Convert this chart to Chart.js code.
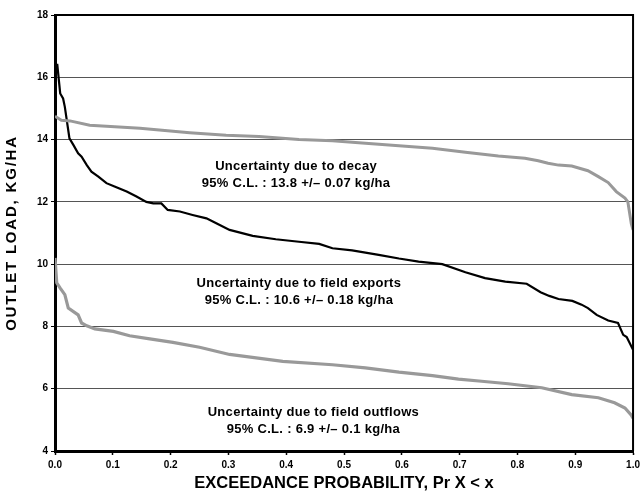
<!DOCTYPE html>
<html>
<head>
<meta charset="utf-8">
<script src="https://cdn.jsdelivr.net/npm/chart.js@4"></script>
<style>
  body { margin: 0; background: #fff; }
  #wrap { width: 644px; height: 493px; }
</style>
</head>
<body>
<div id="wrap"><canvas id="loadChart" width="644" height="493"></canvas></div>
<script>
// exceedance curves
const decayProb = [0, 0.011, 0.026, 0.06, 0.147, 0.233, 0.296, 0.353, 0.422, 0.48, 0.537, 0.595, 0.653, 0.71, 0.767, 0.813, 0.836, 0.853, 0.871, 0.894, 0.922, 0.94, 0.957, 0.971, 0.986, 0.991, 0.997, 1.0];
const decayLoad = [14.75, 14.62, 14.6, 14.46, 14.36, 14.22, 14.14, 14.1, 14.0, 13.96, 13.88, 13.8, 13.72, 13.59, 13.47, 13.4, 13.32, 13.24, 13.18, 13.15, 13.0, 12.81, 12.62, 12.33, 12.12, 12.0, 11.3, 11.1];

const exportsProb = [0, 0.004, 0.009, 0.014, 0.017, 0.025, 0.032, 0.04, 0.046, 0.055, 0.063, 0.075, 0.089, 0.103, 0.124, 0.141, 0.158, 0.17, 0.184, 0.195, 0.216, 0.238, 0.262, 0.279, 0.302, 0.342, 0.382, 0.422, 0.457, 0.48, 0.514, 0.56, 0.595, 0.629, 0.67, 0.71, 0.744, 0.779, 0.816, 0.84, 0.855, 0.871, 0.895, 0.911, 0.922, 0.937, 0.957, 0.974, 0.983, 0.989, 1.0];
const exportsLoad = [16.4, 16.4, 15.48, 15.32, 15.05, 14.04, 13.82, 13.56, 13.45, 13.18, 12.97, 12.81, 12.6, 12.49, 12.33, 12.17, 12.0, 11.95, 11.95, 11.74, 11.69, 11.58, 11.47, 11.31, 11.1, 10.91, 10.8, 10.72, 10.65, 10.51, 10.44, 10.3, 10.18, 10.08, 10.0, 9.74, 9.55, 9.44, 9.37, 9.1, 8.98, 8.88, 8.82, 8.7, 8.59, 8.37, 8.19, 8.11, 7.73, 7.66, 7.25];

const outflowsProb = [0, 0.003, 0.009, 0.017, 0.023, 0.04, 0.046, 0.055, 0.069, 0.101, 0.129, 0.164, 0.204, 0.25, 0.302, 0.394, 0.48, 0.537, 0.595, 0.653, 0.698, 0.738, 0.784, 0.842, 0.894, 0.94, 0.968, 0.986, 0.997, 1.0];
const outflowsLoad = [10.2, 9.4, 9.23, 9.02, 8.59, 8.37, 8.11, 8.02, 7.92, 7.84, 7.7, 7.6, 7.49, 7.33, 7.1, 6.88, 6.77, 6.67, 6.53, 6.42, 6.31, 6.24, 6.16, 6.03, 5.81, 5.71, 5.55, 5.38, 5.15, 5.05];

const decayNote = ['Uncertainty due to decay', '95% C.L. : 13.8 +/\u2013 0.07 kg/ha'];
const exportsNote = ['Uncertainty due to field exports', '95% C.L. : 10.6 +/\u2013 0.18 kg/ha'];
const outflowsNote = ['Uncertainty due to field outflows', '95% C.L. : 6.9 +/\u2013 0.1 kg/ha'];

const xTitle = 'EXCEEDANCE PROBABILITY, Pr X < x';
const yTitle = 'OUTLET LOAD, KG/HA';

const pts = (xs, ys) => xs.map((x, i) => ({ x: x, y: ys[i] }));

Chart.defaults.font.family = '"Liberation Sans", Arial, sans-serif';
Chart.defaults.color = '#000';

// labels inside the plot, placed in data units
const notes = [
  { lines: decayNote, x: 0.417, y: 13.15 },
  { lines: exportsNote, x: 0.422, y: 9.38 },
  { lines: outflowsNote, x: 0.447, y: 5.25 }
];

const notesPlugin = {
  id: 'notes',
  afterDatasetsDraw(chart) {
    const { ctx, scales } = chart;
    ctx.save();
    ctx.font = 'bold 13px "Liberation Sans", Arial, sans-serif';
    ctx.letterSpacing = '0.3px';
    ctx.fillStyle = '#000';
    ctx.textAlign = 'center';
    ctx.textBaseline = 'middle';
    notes.forEach(n => {
      const px = scales.x.getPixelForValue(n.x);
      const py = scales.y.getPixelForValue(n.y);
      n.lines.forEach((t, i) => ctx.fillText(t, px, py + i * 17));
    });
    ctx.restore();
  }
};

// frame on top/right and the vertical axis title
const framePlugin = {
  id: 'frame',
  afterDraw(chart) {
    const { ctx, chartArea: a } = chart;
    ctx.save();
    ctx.strokeStyle = '#000';
    ctx.lineWidth = 2;
    ctx.beginPath();
    ctx.moveTo(a.left, a.top);
    ctx.lineTo(a.right, a.top);
    ctx.lineTo(a.right, a.bottom);
    ctx.stroke();

    ctx.translate(12, (a.top + a.bottom) / 2);
    ctx.rotate(-Math.PI / 2);
    ctx.font = 'bold 15px "Liberation Sans", Arial, sans-serif';
    ctx.letterSpacing = '1.8px';
    ctx.fillStyle = '#000';
    ctx.textAlign = 'center';
    ctx.textBaseline = 'middle';
    ctx.fillText(yTitle, 0, 0);
    ctx.restore();
  }
};

new Chart(document.getElementById('loadChart'), {
  type: 'line',
  data: {
    datasets: [
      { label: 'Decay', data: pts(decayProb, decayLoad), borderColor: '#999999', borderWidth: 3 },
      { label: 'Field exports', data: pts(exportsProb, exportsLoad), borderColor: '#000000', borderWidth: 2.2 },
      { label: 'Field outflows', data: pts(outflowsProb, outflowsLoad), borderColor: '#999999', borderWidth: 3.2 }
    ]
  },
  options: {
    responsive: false,
    animation: false,
    elements: { point: { radius: 0 }, line: { tension: 0 } },
    layout: { padding: { top: 15, right: 9, bottom: 0, left: 0 } },
    plugins: { legend: { display: false }, tooltip: { enabled: false } },
    scales: {
      x: {
        type: 'linear',
        min: 0, max: 1,
        afterFit: s => { s.height = 42; },
        border: { color: '#000', width: 3 },
        grid: { drawOnChartArea: false, drawTicks: true, tickLength: 4, tickColor: '#000', tickWidth: 1.5 },
        ticks: { stepSize: 0.1, padding: 4, maxRotation: 0, font: { size: 10, weight: 'bold' },
                 callback: v => v.toFixed(1) },
        title: { display: true, text: xTitle, font: { size: 16.5, weight: 'bold' },
                 padding: { top: 2, bottom: 0 } }
      },
      y: {
        min: 4, max: 18,
        afterFit: s => { s.width = 55; },
        border: { color: '#000', width: 3 },
        grid: { color: '#555', lineWidth: 1, drawTicks: true, tickLength: 4, tickColor: '#000' },
        ticks: { stepSize: 2, padding: 3, font: { size: 10, weight: 'bold' } },
        title: { display: false }
      }
    }
  },
  plugins: [notesPlugin, framePlugin]
});
</script>
</body>
</html>
